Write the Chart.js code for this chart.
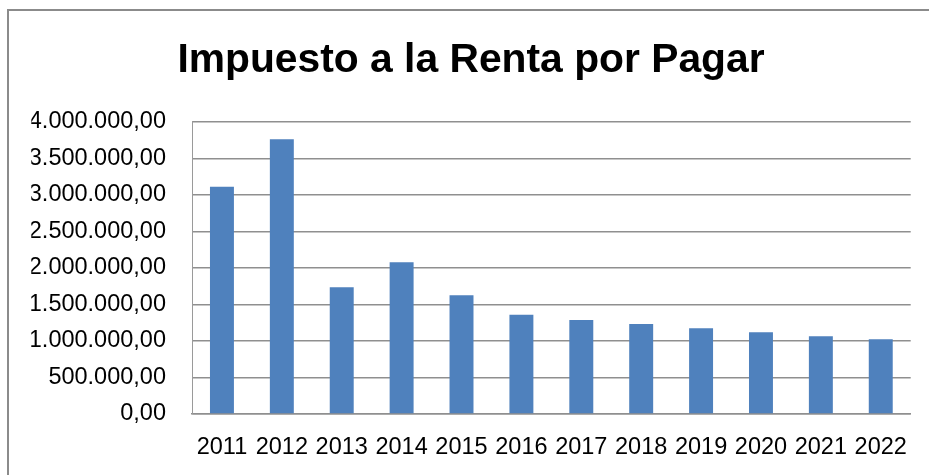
<!DOCTYPE html>
<html>
<head>
<meta charset="utf-8">
<script src="https://cdn.jsdelivr.net/npm/chart.js@4/dist/chart.umd.min.js"></script>
<style>
  html, body { margin: 0; padding: 0; background: #ffffff; overflow: hidden; }
  #frame { position: absolute; left: 7px; top: 9px; width: 1000px; height: 1000px; border: 2px solid #8b8b8b; }
  #c { position: absolute; left: 0; top: 0; }
</style>
</head>
<body>
<div id="frame"></div>
<canvas id="c" width="929" height="475"></canvas>
<script>
const categories = ['2011','2012','2013','2014','2015','2016','2017','2018','2019','2020','2021','2022'];
const seriesValues = [3110000, 3763000, 1736000, 2078000, 1626000, 1360000, 1288000, 1233000, 1174000, 1119000, 1064000, 1023000];
const yTickValues = [0, 500000, 1000000, 1500000, 2000000, 2500000, 3000000, 3500000, 4000000];
const chartTitle = 'Impuesto a la Renta por Pagar';

function fmt(v) {
  const parts = Math.round(v).toString().replace(/\B(?=(\d{3})+(?!\d))/g, '.');
  return parts + ',00';
}

const tickFont = { family: 'Liberation Sans', size: 23.5, lineHeight: 1.2 };
const padLeft = 31.3;

new Chart(document.getElementById('c'), {
  type: 'bar',
  data: {
    labels: categories,
    datasets: [{
      data: seriesValues,
      backgroundColor: '#4F81BD',
      borderWidth: 0,
      categoryPercentage: 1.0,
      barPercentage: 0.4
    }]
  },
  options: {
    responsive: false,
    animation: false,
    devicePixelRatio: 1,
    layout: { padding: { left: padLeft, right: 18.3, top: 0, bottom: 14.6 } },
    plugins: {
      legend: { display: false },
      tooltip: { enabled: false },
      title: {
        display: true,
        text: chartTitle,
        color: '#000000',
        font: { family: 'Liberation Sans', size: 40.8, weight: 'bold', lineHeight: 1.2 },
        padding: { top: 36.5, bottom: 36.4 }
      }
    },
    scales: {
      x: {
        afterFit: (scale) => { scale.height = 46.4; },
        grid: { display: false, drawTicks: false },
        border: { display: true, color: '#8f8f8f', width: 1.5 },
        ticks: { color: '#000000', padding: 19, maxRotation: 0, autoSkip: false, font: tickFont }
      },
      y: {
        min: 0,
        max: 4000000,
        afterBuildTicks: (scale) => { scale.ticks = yTickValues.map(v => ({ value: v })); },
        afterFit: (scale) => { scale.width = 192 - padLeft; },
        grid: { color: '#8f8f8f', lineWidth: 1.5, drawTicks: false },
        border: { display: true, color: '#9a9a9a', width: 1 },
        ticks: { color: '#000000', padding: 26, font: tickFont,
                 callback: (v) => fmt(v) }
      }
    }
  }
});
</script>
</body>
</html>
